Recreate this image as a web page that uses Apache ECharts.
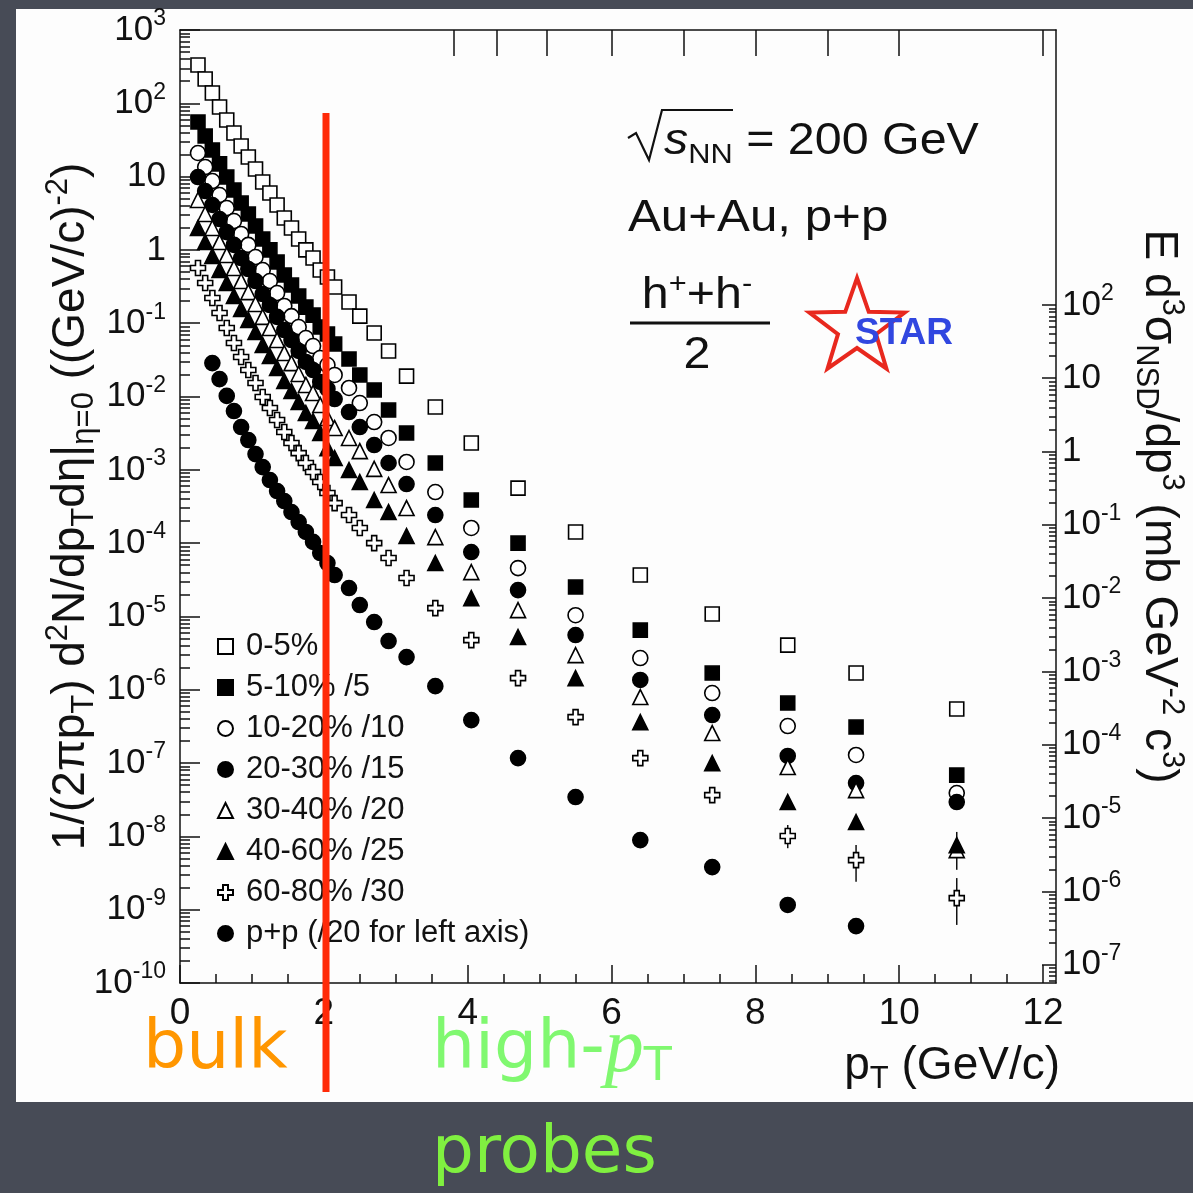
<!DOCTYPE html>
<html>
<head>
<meta charset="utf-8">
<script src="https://cdn.jsdelivr.net/npm/echarts@6/dist/echarts.min.js"></script>
<style>
html,body{margin:0;padding:0;background:#474b56;}
#chart{width:1193px;height:1193px;}
</style>
</head>
<body>
<div id="chart"></div>
<script>
// pT bin centres (GeV/c)
const ptAuAu = [0.25,0.35,0.45,0.55,0.65,0.75,0.85,0.95,1.05,1.15,1.25,1.35,1.45,1.55,1.65,1.75,1.85,1.95,2.05,2.15,
  2.35,2.5,2.7,2.9,3.15,3.55,4.05,4.7,5.5,6.4,7.4,8.45,9.4,10.8];
const ptPP = [0.45,0.55,0.65,0.75,0.85,0.95,1.05,1.15,1.25,1.35,1.45,1.55,1.65,1.75,1.85,1.95,2.05,2.15,
  2.35,2.5,2.7,2.9,3.15,3.55,4.05,4.7,5.5,6.4,7.4,8.45,9.4];

// yields, left axis units (already scaled as in the legend)
const cent0_5 = [333,215,138,89,59.2,39.3,26.2,18.5,12.7,8.44,5.97,4.10,2.72,1.99,1.41,1.00,0.775,0.532,0.427,0.312,
  0.195,0.125,0.0735,0.0418,0.0190,0.00719,0.00232,5.64e-4,1.42e-4,3.67e-5,1.08e-5,4.07e-6,1.69e-6,5.46e-7];
const cent5_10 = [55.6,35.8,23.1,14.9,9.87,6.57,4.36,3.09,2.12,1.41,1.00,0.684,0.455,0.332,0.235,0.166,0.129,0.0887,0.0712,0.0520,
  0.0325,0.0197,0.0123,0.00654,0.00318,0.00124,3.87e-4,1.00e-4,2.52e-5,6.52e-6,1.69e-6,6.59e-7,3.10e-7,6.86e-8];
const cent10_20 = [21.0,13.5,8.71,5.61,3.73,2.48,1.65,1.17,0.800,0.532,0.376,0.258,0.172,0.125,0.0887,0.0628,0.0489,0.0335,0.0269,0.0197,
  0.0131,0.00815,0.00449,0.00272,0.00128,4.98e-4,1.61e-4,4.57e-5,1.04e-5,2.71e-6,9.02e-7,3.20e-7,1.29e-7,3.90e-8];
const cent20_30 = [9.87,6.36,4.10,2.64,1.75,1.17,0.775,0.549,0.376,0.250,0.177,0.122,0.0808,0.0590,0.0418,0.0296,0.0230,0.0158,0.0127,0.00924,
  0.00614,0.00384,0.00218,0.00124,6.40e-4,2.42e-4,7.56e-5,2.29e-5,5.58e-6,1.36e-6,4.52e-7,1.25e-7,5.33e-8,2.94e-8];
const cent30_40 = [4.80,3.09,1.99,1.28,0.852,0.566,0.376,0.266,0.183,0.122,0.0860,0.0590,0.0392,0.0286,0.0203,0.0144,0.0112,0.00766,0.00509,0.00372,
  0.00272,0.00180,0.00103,6.20e-4,3.01e-4,1.21e-4,4.03e-5,1.22e-5,2.97e-6,7.95e-7,2.57e-7,8.82e-8,4.28e-8,6.50e-9];
const cent40_60 = [1.99,1.28,0.826,0.532,0.354,0.235,0.156,0.111,0.0758,0.0504,0.0357,0.0245,0.0163,0.0119,0.00841,0.00595,0.00463,0.00318,0.00198,0.00145,
  9.94e-4,6.82e-4,3.87e-4,2.66e-4,1.25e-4,5.35e-5,1.78e-5,5.24e-6,1.44e-6,3.62e-7,1.0e-7,2.94e-8,1.57e-8,7.61e-9];
const cent60_80 = [0.566,0.354,0.221,0.138,0.0860,0.0537,0.0346,0.0230,0.0153,0.00984,0.00697,0.00478,0.00328,0.00232,0.00169,0.00124,9.33e-4,6.82e-4,4.83e-4,3.52e-4,
  2.42e-4,1.61e-4,1.00e-4,6.26e-5,3.34e-5,1.30e-5,4.76e-6,1.44e-6,4.24e-7,1.17e-7,3.66e-8,1.01e-8,4.75e-9,1.44e-9];
const ppYield = [0.0286,0.0173,0.0102,0.00634,0.00384,0.00255,0.00164,0.00109,7.26e-4,5.14e-4,3.75e-4,2.66e-4,1.94e-4,1.42e-4,1.04e-4,7.33e-5,5.35e-5,3.67e-5,
  2.44e-5,1.43e-5,8.39e-6,4.62e-6,2.79e-6,1.12e-6,3.86e-7,1.17e-7,3.44e-8,8.90e-9,3.81e-9,1.16e-9,5.97e-10];

// visible error bars at high pT
const errPt = [8.45, 9.4, 10.8, 10.8, 9.4];
const errLow = [6.9e-9, 2.4e-9, 6.2e-10, 3.5e-9, 5.0e-10];
const errHigh = [1.43e-8, 7.6e-9, 2.7e-9, 1.15e-8, 7.3e-10];

const legendNames = ['0-5%','5-10% /5','10-20% /10','20-30% /15','30-40% /20','40-60% /25','60-80% /30','p+p (/20 for left axis)'];

// axis ticks
const xMajor = [0,2,4,6,8,10,12];
const xMinor = [0.5,1,1.5,2.5,3,3.5,4.5,5,5.5,6.5,7,7.5,8.5,9,9.5,10.5,11,11.5];
const topTicks = [3.8,4.4,5.1,6,7,8,9,10,12];
const leftDecades = [-10,-9,-8,-7,-6,-5,-4,-3,-2,-1,0,1,2,3];
const rightDecades = [-7,-6,-5,-4,-3,-2,-1,0,1,2];

const FONT = '"Liberation Sans", Arial, sans-serif';
const lg = v => Math.log10(v);
const pts = (xs, ys) => ys.map((y, i) => [xs[i], lg(y)]);

function minorTicks(lo, hi) {
  const out = [];
  for (let n = Math.floor(lo) - 1; n <= hi; n++) {
    for (let k = 2; k <= 9; k++) {
      const v = n + Math.log10(k);
      if (v > lo && v < hi) out.push(v);
    }
  }
  return out;
}

function powLabel(v) {
  if (v === 0) return '{m|1}';
  if (v === 1) return '{m|10}';
  return '{m|10}{e|' + v + '}';
}
const powRich = {
  m: { fontSize: 35, lineHeight: 40, color: '#111', fontFamily: FONT },
  e: { fontSize: 23, lineHeight: 23, padding: [0, 0, 22, 0], color: '#111', fontFamily: FONT }
};
const axisLineStyle = { color: '#111', width: 1.5 };

const R_MIN = -7.25, R_MAX = 5.75;

const chart = echarts.init(document.getElementById('chart'));

const OPEN_CROSS = 'path://M-1,-3H1V-1H3V1H1V3H-1V1H-3V-1H-1Z';
function scat(name, xs, ys, symbol, filled, size) {
  return {
    type: 'scatter', name: name, data: pts(xs, ys), symbol: symbol, symbolSize: size || 14,
    xAxisIndex: 0, yAxisIndex: 0,
    itemStyle: { color: filled ? '#000' : '#fff', borderColor: '#000', borderWidth: 1.6, opacity: 1 },
    emphasis: { disabled: true }, z: 3
  };
}

const titleRich = {
  t: { fontSize: 46, lineHeight: 54, color: '#111', fontFamily: FONT },
  sub: { fontSize: 31, lineHeight: 31, padding: [26, 0, 0, 0], color: '#111', fontFamily: FONT },
  sup: { fontSize: 31, lineHeight: 31, padding: [0, 0, 26, 0], color: '#111', fontFamily: FONT }
};

function starPoints(cx, cy, R, r) {
  const p = [];
  for (let i = 0; i < 10; i++) {
    const a = -Math.PI / 2 + i * Math.PI / 5;
    const rr = i % 2 ? r : R;
    p.push([cx + rr * Math.cos(a), cy + rr * Math.sin(a)]);
  }
  return p;
}

const option = {
  animation: false,
  backgroundColor: '#474b56',
  textStyle: { fontFamily: FONT },
  grid: { left: 180, top: 30, right: 137, bottom: 210, containLabel: false, outerBoundsMode: 'none' },
  legend: {
    data: legendNames, orient: 'vertical', left: 212, top: 626,
    itemWidth: 15, itemHeight: 15, itemGap: 10, selectedMode: false,
    textStyle: { fontSize: 31, color: '#111', fontFamily: FONT, padding: [0, 0, 0, 8] }
  },
  xAxis: [
    {
      type: 'value', position: 'bottom', min: 0, max: 12.18,
      splitLine: { show: false },
      axisLine: { onZero: false, lineStyle: axisLineStyle },
      axisTick: { inside: true, length: 18, customValues: xMajor, lineStyle: axisLineStyle },
      axisLabel: { customValues: xMajor, margin: 12, fontSize: 37, color: '#111', fontFamily: FONT },
      name: '{t|p}{sub|T}{t| (GeV/c)}', nameLocation: 'end', nameGap: 4, nameMoveOverlap: false,
      nameTextStyle: { align: 'right', verticalAlign: 'top', padding: [56, 0, 0, 0], rich: titleRich }
    },
    {
      type: 'value', position: 'bottom', min: 0, max: 12.18,
      splitLine: { show: false }, axisLine: { show: false, onZero: false },
      axisTick: { inside: true, length: 9, customValues: xMinor, lineStyle: axisLineStyle },
      axisLabel: { show: false }
    },
    {
      type: 'value', position: 'top', min: 0, max: 12.18,
      splitLine: { show: false }, axisLine: { onZero: false, lineStyle: axisLineStyle },
      axisTick: { inside: true, length: 26, customValues: topTicks, lineStyle: axisLineStyle },
      axisLabel: { show: false }
    }
  ],
  yAxis: [
    {
      type: 'value', position: 'left', min: -10, max: 3,
      splitLine: { show: false },
      axisLine: { onZero: false, lineStyle: axisLineStyle },
      axisTick: { inside: true, length: 20, customValues: leftDecades, lineStyle: axisLineStyle },
      axisLabel: { customValues: leftDecades, margin: 14, formatter: powLabel, rich: powRich },
      name: '{t|1/(2πp}{sub|T}{t|) d}{sup|2}{t|N/dp}{sub|T}{t|dη|}{sub|η=0}{t| ((GeV/c)}{sup|-2}{t|)}',
      nameLocation: 'middle', nameRotate: 90, nameGap: 82, nameMoveOverlap: false,
      nameTextStyle: { rich: titleRich }
    },
    {
      type: 'value', position: 'left', min: -10, max: 3,
      splitLine: { show: false }, axisLine: { show: false, onZero: false },
      axisTick: { inside: true, length: 10, customValues: minorTicks(-10, 3), lineStyle: axisLineStyle },
      axisLabel: { show: false }
    },
    {
      type: 'value', position: 'right', min: R_MIN, max: R_MAX,
      splitLine: { show: false },
      axisLine: { onZero: false, lineStyle: axisLineStyle },
      axisTick: { inside: true, length: 14, customValues: rightDecades, lineStyle: axisLineStyle },
      axisLabel: { customValues: rightDecades, margin: 6, formatter: powLabel, rich: powRich },
      name: '{t|E d}{sup|3}{t|σ}{sub|NSD}{t|/dp}{sup|3}{t| (mb GeV}{sup|-2}{t| c}{sup|3}{t|)}',
      nameLocation: 'middle', nameRotate: -90, nameGap: 76, nameMoveOverlap: false,
      nameTextStyle: { rich: titleRich }
    },
    {
      type: 'value', position: 'right', min: R_MIN, max: R_MAX,
      splitLine: { show: false }, axisLine: { show: false, onZero: false },
      axisTick: { inside: true, length: 7, customValues: minorTicks(R_MIN, 2), lineStyle: axisLineStyle },
      axisLabel: { show: false }
    }
  ],
  series: [
    {
      type: 'custom', xAxisIndex: 0, yAxisIndex: 0, z: 2, silent: true,
      data: errPt.map((p, i) => [p, lg(errLow[i]), lg(errHigh[i])]),
      renderItem: function (params, api) {
        const a = api.coord([api.value(0), api.value(1)]);
        const b = api.coord([api.value(0), api.value(2)]);
        return { type: 'line', shape: { x1: a[0], y1: a[1], x2: b[0], y2: b[1] }, style: { stroke: '#111', lineWidth: 1.5 } };
      }
    },
    scat(legendNames[0], ptAuAu, cent0_5, 'rect', false, 14),
    scat(legendNames[1], ptAuAu, cent5_10, 'rect', true, 14),
    scat(legendNames[2], ptAuAu, cent10_20, 'circle', false, 15),
    scat(legendNames[3], ptAuAu, cent20_30, 'circle', true, 15),
    scat(legendNames[4], ptAuAu, cent30_40, 'triangle', false, 15),
    scat(legendNames[5], ptAuAu, cent40_60, 'triangle', true, 15),
    scat(legendNames[6], ptAuAu, cent60_80, OPEN_CROSS, false, 15),
    scat(legendNames[7], ptPP, ppYield, 'circle', true, 15)
  ],
  graphic: [
    { type: 'rect', z: -100, shape: { x: 16, y: 9, width: 1177, height: 1093 }, style: { fill: '#fdfdfd' } },
    // sqrt(s_NN)
    { type: 'polyline', z: 50, shape: { points: [[628, 138], [636, 133], [649, 160], [662, 110], [733, 110]] },
      style: { stroke: '#111', lineWidth: 2.2, fill: null } },
    { type: 'text', z: 50, x: 664, y: 142, scaleX: 1.1, style: {
        text: '{i|s}{sub|NN}{t| = 200 GeV}', verticalAlign: 'middle',
        rich: {
          i: { fontSize: 44, lineHeight: 50, fontStyle: 'italic', fill: '#111', fontFamily: FONT },
          sub: { fontSize: 28, lineHeight: 28, padding: [26, 0, 0, 0], fill: '#111', fontFamily: FONT },
          t: { fontSize: 44, lineHeight: 50, fill: '#111', fontFamily: FONT }
        } } },
    { type: 'text', z: 50, x: 628, y: 219, scaleX: 1.12, style: { text: 'Au+Au, p+p', fontSize: 44, fill: '#111', fontFamily: FONT, verticalAlign: 'middle' } },
    { type: 'text', z: 50, x: 697, y: 296, scaleX: 1.1, style: {
        text: '{t|h}{s|+}{t|+h}{s|-}', align: 'center', verticalAlign: 'middle',
        rich: {
          t: { fontSize: 44, lineHeight: 50, fill: '#111', fontFamily: FONT },
          s: { fontSize: 28, lineHeight: 28, padding: [0, 0, 24, 0], fill: '#111', fontFamily: FONT }
        } } },
    { type: 'line', z: 50, shape: { x1: 630, y1: 323, x2: 770, y2: 323 }, style: { stroke: '#111', lineWidth: 3 } },
    { type: 'text', z: 50, x: 697, y: 356, scaleX: 1.1, style: { text: '2', fontSize: 44, fill: '#111', fontFamily: FONT, align: 'center', verticalAlign: 'middle' } },
    // STAR logo
    { type: 'polygon', z: 50, shape: { points: starPoints(857, 328, 50, 20) }, style: { stroke: '#e8281e', lineWidth: 4, fill: null } },
    { type: 'text', z: 51, x: 855, y: 334, style: { text: 'STAR', fontSize: 37, fontWeight: 'bold', fill: '#3147e0', fontFamily: FONT, verticalAlign: 'middle' } },
    // bulk / high-pT divider
    { type: 'line', z: 100, shape: { x1: 326, y1: 113, x2: 326, y2: 1092 }, style: { stroke: '#ff2a08', lineWidth: 7 } },
    { type: 'text', z: 60, x: 143, y: 1050, style: { text: 'bulk', fontSize: 68, fill: '#ff9600', fontFamily: '"DejaVu Sans"', verticalAlign: 'middle' } },
    { type: 'text', z: 60, x: 432, y: 1050, style: {
        text: '{a|high-}{p|p}{s|T}', verticalAlign: 'middle',
        rich: {
          a: { fontSize: 68, lineHeight: 74, fill: '#80f870', fontFamily: '"DejaVu Sans"' },
          p: { fontSize: 78, lineHeight: 74, fill: '#80f870', fontStyle: 'italic', fontFamily: '"Liberation Serif"' },
          s: { fontSize: 46, lineHeight: 46, padding: [36, 0, 0, 0], fill: '#80f870', fontFamily: '"DejaVu Sans"' }
        } } },
    { type: 'text', z: 60, x: 432, y: 1155, style: { text: 'probes', fontSize: 66, fill: '#80f040', fontFamily: '"DejaVu Sans"', verticalAlign: 'middle' } }
  ]
};

chart.setOption(option);
</script>
</body>
</html>
